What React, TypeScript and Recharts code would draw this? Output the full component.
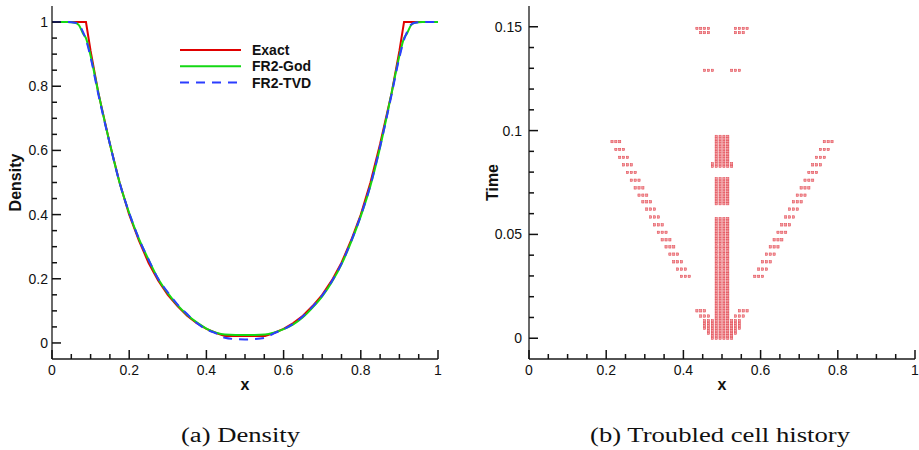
import React from 'react';
import { LineChart, Line, XAxis, YAxis, Legend, ScatterChart, Scatter } from 'recharts';

// ---- (a) density at t = 0.15 ----
const xGrid = [
  0, 0.02, 0.04, 0.06, 0.07, 0.08, 0.088, 0.1, 0.12, 0.15, 0.175, 0.2, 0.225, 0.25, 0.275, 0.3,
  0.325, 0.35, 0.375, 0.4, 0.425, 0.448, 0.475, 0.5, 0.525, 0.552, 0.575, 0.6, 0.625, 0.65, 0.675,
  0.7, 0.725, 0.75, 0.775, 0.8, 0.825, 0.85, 0.88, 0.9, 0.912, 0.92, 0.93, 0.94, 0.96, 0.98, 1,
];
const exactRho = [
  1, 1, 1, 1, 1, 1, 1, 0.91, 0.78, 0.62, 0.5, 0.4, 0.32, 0.25, 0.195, 0.15,
  0.115, 0.085, 0.062, 0.044, 0.031, 0.022, 0.022, 0.022, 0.022, 0.022, 0.031, 0.044, 0.062, 0.085, 0.115,
  0.15, 0.195, 0.25, 0.32, 0.4, 0.5, 0.62, 0.78, 0.91, 1, 1, 1, 1, 1, 1, 1,
];
const godRho = [
  1, 1, 1, 0.998, 0.99, 0.965, 0.95, 0.895, 0.78, 0.62, 0.5, 0.405, 0.325, 0.26, 0.2, 0.155,
  0.118, 0.088, 0.064, 0.045, 0.032, 0.026, 0.025, 0.025, 0.025, 0.026, 0.032, 0.043, 0.058, 0.08, 0.11,
  0.145, 0.19, 0.245, 0.315, 0.395, 0.49, 0.61, 0.78, 0.895, 0.95, 0.965, 0.99, 0.998, 1, 1, 1,
];
const tvdRho = [
  1, 1, 1, 0.998, 0.992, 0.97, 0.945, 0.89, 0.775, 0.62, 0.5, 0.405, 0.325, 0.26, 0.2, 0.158,
  0.12, 0.09, 0.062, 0.042, 0.03, 0.016, 0.012, 0.011, 0.012, 0.016, 0.03, 0.043, 0.06, 0.083, 0.113,
  0.148, 0.192, 0.247, 0.317, 0.397, 0.492, 0.612, 0.775, 0.89, 0.945, 0.97, 0.992, 0.998, 1, 1, 1,
];

const xTicks = [0, 0.05, 0.1, 0.15, 0.2, 0.25, 0.3, 0.35, 0.4, 0.45, 0.5, 0.55, 0.6, 0.65, 0.7, 0.75, 0.8, 0.85, 0.9, 0.95, 1];
const densityTicks = [0, 0.05, 0.1, 0.15, 0.2, 0.25, 0.3, 0.35, 0.4, 0.45, 0.5, 0.55, 0.6, 0.65, 0.7, 0.75, 0.8, 0.85, 0.9, 0.95, 1];
const timeTicks = [0, 0.01, 0.02, 0.03, 0.04, 0.05, 0.06, 0.07, 0.08, 0.09, 0.1, 0.11, 0.12, 0.13, 0.14, 0.15];
const densityDomain = [-0.05, 1.05];
const timeDomain = [-0.01, 0.16];

const series = [
  { key: 'exact', name: 'Exact', color: '#e00000', dash: undefined as string | undefined, type: 'linear' as const },
  { key: 'god', name: 'FR2-God', color: '#14d814', dash: undefined as string | undefined, type: 'monotone' as const },
  { key: 'tvd', name: 'FR2-TVD', color: '#2b3dff', dash: '9 7', type: 'monotone' as const },
];

// ---- (b) troubled cells: 100 cells, index i -> centre 0.005 + 0.01 i ----
const DT = 0.0012; // output interval of flagged rows
// [tFirst, tLast, firstCell, lastCell]
const cellBlocks: [number, number, number, number][] = [
  [0, 0.0576, 48, 51],
  [0.0648, 0.0768, 48, 51],
  [0.0828, 0.0972, 48, 51],
  [0.0828, 0.084, 47, 47],
  [0.0828, 0.084, 52, 52],
  [0, 0.0084, 47, 47],
  [0, 0.0084, 52, 52],
  [0.0024, 0.0084, 46, 46],
  [0.0024, 0.0084, 53, 53],
  [0.0048, 0.0084, 45, 45],
  [0.0048, 0.0084, 54, 54],
  [0.0107, 0.0107, 44, 46],
  [0.0107, 0.0107, 53, 55],
  [0.0132, 0.0132, 43, 45],
  [0.0132, 0.0132, 54, 56],
  [0.129, 0.129, 45, 47],
  [0.129, 0.129, 52, 54],
  [0.1472, 0.1472, 44, 46],
  [0.1472, 0.1472, 53, 55],
  [0.1492, 0.1492, 43, 46],
  [0.1492, 0.1492, 53, 56],
];
// shock rows: [t, first cell of left triple, first cell of right triple]
const shockRows: [number, number, number][] = [
  [0.0947, 21, 76], [0.0909, 22, 75], [0.0871, 23, 74], [0.0835, 24, 73], [0.0798, 25, 72],
  [0.0761, 26, 71], [0.0724, 27, 70], [0.0689, 28, 69], [0.0657, 29, 68], [0.0622, 30, 67],
  [0.0584, 31, 66], [0.0546, 32, 65], [0.051, 33, 64], [0.0474, 34, 63], [0.044, 35, 62],
  [0.0405, 36, 61], [0.0368, 37, 60], [0.0333, 38, 59], [0.0298, 39, 58],
];

const cellX = (i: number) => +(0.005 + i * 0.01).toFixed(4);

const troubledCells: { x: number; t: number }[] = [];
cellBlocks.forEach(([t0, t1, c0, c1]) => {
  const n = Math.round((t1 - t0) / DT) + 1;
  for (let k = 0; k < n; k++) {
    for (let c = c0; c <= c1; c++) troubledCells.push({ x: cellX(c), t: t0 + k * DT });
  }
});
shockRows.forEach(([t, l, r]) => {
  for (let c = 0; c < 3; c++) {
    troubledCells.push({ x: cellX(l + c), t });
    troubledCells.push({ x: cellX(r + c), t });
  }
});

const densityRows = xGrid.map((x, i) => ({ x, exact: exactRho[i], god: godRho[i], tvd: tvdRho[i] }));

const AXIS = '#111';
const SANS = '"Liberation Sans", Arial, Helvetica, sans-serif';
const fmt = (v: number) => String(+v.toFixed(2));
const isMajor = (v: number, every: number) => Math.round(v * 100) % every === 0;
const tickLen = (v: number, every: number) => (isMajor(v, every) ? 9 : 5);

// tickSize/tickMargin are 0, so (x, y) handed to a tick is the point on the axis line;
// ticks point into the frame, numbers only on the major ones
const bottomTick = (p: any) => {
  const v = p.payload.value;
  return (
    <g>
      <line x1={p.x} x2={p.x} y1={p.y} y2={p.y - tickLen(v, 20)} stroke={AXIS} strokeWidth={1.5} />
      {isMajor(v, 20) && (
        <text x={p.x} y={p.y + 16} textAnchor="middle" fontFamily={SANS} fontSize={14} fill="#111" stroke="none">
          {fmt(v)}
        </text>
      )}
    </g>
  );
};
const leftTick = (every: number, gap: number) => (p: any) => {
  const v = p.payload.value;
  return (
    <g>
      <line x1={p.x} x2={p.x + tickLen(v, every)} y1={p.y} y2={p.y} stroke={AXIS} strokeWidth={1.5} />
      {isMajor(v, every) && (
        <text x={p.x - gap} y={p.y + 5} textAnchor="end" fontFamily={SANS} fontSize={14} fill="#111" stroke="none">
          {fmt(v)}
        </text>
      )}
    </g>
  );
};

const axisTitle = { fontFamily: SANS, fontSize: 16, fontWeight: 'bold' as const, fill: '#111' };
const axisStroke = { stroke: '#1a1a1a', strokeWidth: 1.3 };

const DensityLegend = () => (
  <svg width={170} height={52}>
    {series.map((s, i) => (
      <g key={s.key}>
        <line x1={5} x2={66} y1={10 + i * 16.3} y2={10 + i * 16.3} stroke={s.color} strokeWidth={2} strokeDasharray={s.dash} />
        <text x={77} y={15 + i * 16.3} fontFamily={SANS} fontSize={14} fontWeight="bold" fill="#111">
          {s.name}
        </text>
      </g>
    ))}
  </svg>
);

const CellMark = (p: any) => (
  <rect x={p.cx - 1.1} y={p.cy - 1.2} width={2.2} height={2.4} fill="#f29ca1" stroke="#e0404a" strokeWidth={0.5} />
);

const Axes = ({ yDomain, yTicks, yEvery, yWidth, yTitle, titleX, gap, yKey }: any) => [
  <XAxis
    key="x" dataKey="x" type="number" domain={[0, 1]} ticks={xTicks} interval={0}
    height={41} tickSize={0} tickMargin={0} tickLine={false} axisLine={axisStroke} tick={bottomTick}
    label={{ value: 'x', position: 'insideBottom', offset: 10, style: axisTitle }}
  />,
  <YAxis
    key="y" dataKey={yKey} type="number" domain={yDomain} allowDataOverflow ticks={yTicks} interval={0}
    width={yWidth} tickSize={0} tickMargin={0} tickLine={false} axisLine={axisStroke} tick={leftTick(yEvery, gap)}
    label={{ value: yTitle, angle: -90, position: 'insideLeft', offset: titleX, style: { ...axisTitle, textAnchor: 'middle' } }}
  />,
];

export default function App() {
  return (
    <div style={{ position: 'absolute', left: 0, top: 0, width: 919, height: 450, background: '#fff', overflow: 'hidden' }}>
      <div style={{ position: 'absolute', left: 0, top: 0 }}>
        <LineChart width={460} height={400} data={densityRows} margin={{ top: 6, right: 22, bottom: 0, left: 0 }}>
          {Axes({ yDomain: densityDomain, yTicks: densityTicks, yEvery: 20, yWidth: 52, yTitle: 'Density', titleX: 15, gap: 4 })}
          {series.map((s) => (
            <Line
              key={s.key} dataKey={s.key} name={s.name} type={s.type} stroke={s.color}
              strokeWidth={2} strokeDasharray={s.dash} dot={false} isAnimationActive={false}
            />
          ))}
          <Legend
            layout="vertical" align="center" verticalAlign="middle" content={DensityLegend}
            wrapperStyle={{ left: 175, top: 40, width: 170, height: 52 }}
          />
        </LineChart>
      </div>
      <div style={{ position: 'absolute', left: 470, top: 0 }}>
        <ScatterChart width={449} height={400} margin={{ top: 6, right: 4, bottom: 0, left: 0 }}>
          {Axes({ yDomain: timeDomain, yTicks: timeTicks, yEvery: 5, yWidth: 59, yTitle: 'Time', titleX: 22, gap: 7, yKey: 't' })}
          <Scatter data={troubledCells} dataKey="t" shape={CellMark} isAnimationActive={false} />
        </ScatterChart>
      </div>
      <svg style={{ position: 'absolute', left: 0, top: 380 }} width={919} height={70}>
        <text x={240.5} y={62} textAnchor="middle" fontFamily='"Liberation Serif", "Times New Roman", serif' fontSize={20}
          textLength={119} lengthAdjust="spacingAndGlyphs" fill="#111">
          (a)  Density
        </text>
        <text x={720} y={62} textAnchor="middle" fontFamily='"Liberation Serif", "Times New Roman", serif' fontSize={20}
          textLength={260} lengthAdjust="spacingAndGlyphs" fill="#111">
          (b)  Troubled cell history
        </text>
      </svg>
    </div>
  );
}
